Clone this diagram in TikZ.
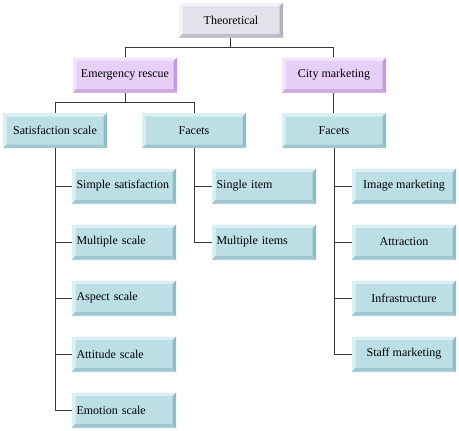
\documentclass[tikz,border=0pt]{standalone}
\usepackage{fontspec}
\setmainfont{Liberation Serif}
\definecolor{tealface}{HTML}{BBDFE5}
\definecolor{teallight}{HTML}{DAF0F3}
\definecolor{tealdark}{HTML}{8EBDC4}
\definecolor{lilacface}{HTML}{E7CFF7}
\definecolor{lilaclight}{HTML}{F3E6FC}
\definecolor{lilacdark}{HTML}{C39BDE}
\definecolor{greyface}{HTML}{E3E1EA}
\definecolor{greylight}{HTML}{F3F2F6}
\definecolor{greydark}{HTML}{B3B0C0}
\definecolor{linegrey}{HTML}{383838}
\tikzset{
  bevel/.style n args={3}{fill=#1,path picture={
    \fill[#2] (path picture bounding box.north west) -- (path picture bounding box.north east)
      -- ([shift={(-3.5pt,-3.5pt)}]path picture bounding box.north east) -- ([shift={(3.5pt,-3.5pt)}]path picture bounding box.north west) -- cycle;
    \fill[#2] (path picture bounding box.north west) -- (path picture bounding box.south west)
      -- ([shift={(3.5pt,3.5pt)}]path picture bounding box.south west) -- ([shift={(3.5pt,-3.5pt)}]path picture bounding box.north west) -- cycle;
    \fill[#3] (path picture bounding box.north east) -- (path picture bounding box.south east)
      -- ([shift={(-3.5pt,3.5pt)}]path picture bounding box.south east) -- ([shift={(-3.5pt,-3.5pt)}]path picture bounding box.north east) -- cycle;
    \fill[#3!85!white] (path picture bounding box.south west) -- (path picture bounding box.south east)
      -- ([shift={(-3.5pt,3.5pt)}]path picture bounding box.south east) -- ([shift={(3.5pt,3.5pt)}]path picture bounding box.south west) -- cycle;
  }},
  box/.style={minimum width=104pt,minimum height=35pt,inner sep=0pt,font=\fontsize{12}{14}\selectfont,text=black},
  greybox/.style={box,bevel={greyface}{greylight}{greydark}},
  lilacbox/.style={box,bevel={lilacface}{lilaclight}{lilacdark}},
  tealbox/.style={box,bevel={tealface}{teallight}{tealdark}},
  leftbox/.style={tealbox,text width=95pt,align=left},
  link/.style={draw=linegrey,line width=0.9pt}
}
\begin{document}
\begin{tikzpicture}[x=1pt,y=1pt]
\useasboundingbox (0,0) rectangle (459,-431);
\node[greybox] (theo) at (231,-20) {Theoretical};
\node[lilacbox] (emerg) at (125,-75) {Emergency rescue};
\node[lilacbox] (city) at (334,-75) {City marketing};
\node[tealbox] (sat) at (55,-130.5) {Satisfaction scale};
\node[tealbox] (facetL) at (194,-130.5) {Facets};
\node[tealbox] (facetR) at (334,-130.5) {Facets};
\node[leftbox] (simple) at (124,-186) {Simple satisfaction};
\node[leftbox] (multscale) at (124,-242) {Multiple scale};
\node[leftbox] (aspect) at (124,-298) {Aspect scale};
\node[leftbox] (attitude) at (124,-354) {Attitude scale};
\node[leftbox] (emotion) at (124,-410) {Emotion scale};
\node[leftbox] (single) at (264,-186) {Single item};
\node[leftbox] (multitems) at (264,-242) {Multiple items};
\node[tealbox] (image) at (404,-186) {Image marketing};
\node[tealbox] (attraction) at (404,-242) {Attraction};
\node[tealbox] (infra) at (404,-298) {Infrastructure};
\node[tealbox] (staff) at (404,-354) {Staff marketing};
\draw[link] ([xshift=-1pt]theo.south) -- ++(0,-10) -| (emerg.north);
\draw[link] ([xshift=-1pt]theo.south) -- ++(0,-10) -| ([xshift=-1pt]city.north);
\draw[link] (emerg.south) -- ++(0,-10) -| (sat.north);
\draw[link] (emerg.south) -- ++(0,-10) -| (facetL.north);
\draw[link] ([xshift=-1pt]city.south) -- ([xshift=-1pt]facetR.north);
\foreach \kid in {simple,multscale,aspect,attitude,emotion}
  \draw[link] (sat.south) |- (\kid.west);
\foreach \kid in {single,multitems}
  \draw[link] (facetL.south) |- (\kid.west);
\foreach \kid in {image,attraction,infra,staff}
  \draw[link] (facetR.south) |- (\kid.west);
\end{tikzpicture}
\end{document}
